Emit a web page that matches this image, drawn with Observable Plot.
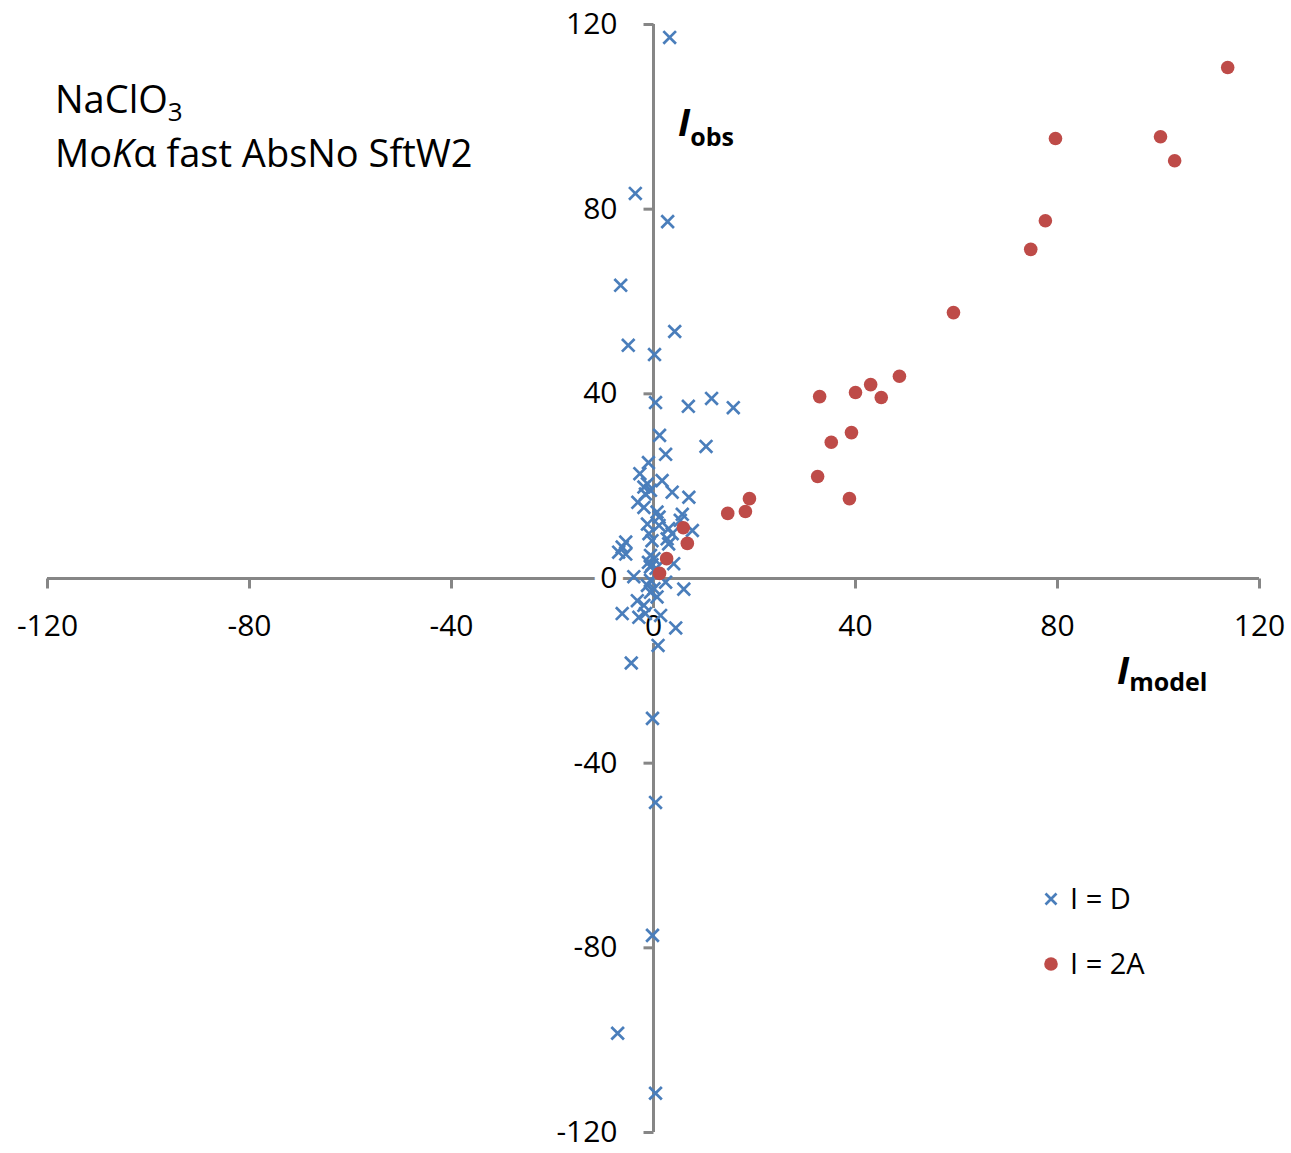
<!DOCTYPE html>
<html><head><meta charset="utf-8">
<script src="https://cdn.jsdelivr.net/npm/d3@7"></script>
<script src="https://cdn.jsdelivr.net/npm/@observablehq/plot@0.6"></script>
<style>
html,body{margin:0;padding:0;background:#fff;}
#chart{position:relative;width:1291px;height:1153px;}
#chart svg{font-family:"Open Sans",sans-serif;}
</style></head><body><div id="chart"></div>
<script>
// Series "I = D": I_model (x) and I_obs (y)
const dModel = [3.2,-3.6,2.8,-6.5,4.2,-5.0,0.2,0.4,11.5,6.9,15.8,10.4,1.2,2.4,-1.0,-2.7,1.7,-1.2,-1.9,-0.6,-1.6,3.7,7.0,-3.1,-1.9,0.7,5.7,1.1,-1.2,1.1,3.0,7.7,5.3,3.7,2.7,3.0,-0.9,-0.3,-5.5,-6.2,-6.9,-5.5,-0.6,0.1,-1.0,-0.3,-0.6,0.5,4.0,-3.9,-0.6,-1.2,0.1,2.4,6.0,-0.6,0.7,-3.2,-1.9,-6.2,-2.9,-1.6,1.4,4.4,0.9,-4.4,-0.2,0.4,-0.2,-7.1,0.4];
const dObs   = [117.2,83.4,77.3,63.5,53.5,50.5,48.5,38.1,39.0,37.3,37.0,28.6,31.0,26.9,25.1,22.7,21.2,20.5,19.8,19.1,18.3,18.7,17.6,16.5,15.4,14.4,13.9,13.3,11.8,11.5,10.8,10.4,12.6,9.7,8.6,7.5,9.7,8.2,7.9,6.8,5.7,5.3,5.0,4.3,3.5,3.0,2.5,2.2,3.2,0.4,-0.4,-1.5,-2.2,-0.8,-2.3,-3.0,-4.0,-4.8,-5.8,-7.6,-8.4,-7.6,-8.0,-10.7,-14.5,-18.3,-30.3,-48.5,-77.3,-98.5,-111.5];
// Series "I = 2A"
const aModel = [113.7,79.6,100.4,103.2,77.6,74.7,59.4,48.7,43.0,40.0,32.9,45.1,39.2,35.2,32.5,38.8,19.0,18.2,14.7,5.9,6.7,2.6,1.2];
const aObs   = [110.7,95.3,95.7,90.5,77.5,71.3,57.6,43.8,42.0,40.3,39.4,39.2,31.6,29.5,22.1,17.3,17.3,14.5,14.1,11.0,7.6,4.3,1.1];
const xTicks = [-120,-80,-40,0,40,80,120];
const yTicks = [-120,-80,-40,0,40,80,120];
const seriesNames = ["I = D","I = 2A"];

const blue = "#4A7EBB", red = "#BE4B48", axisGray = "#868686";
const dData = dModel.map((x,i)=>({x, y:dObs[i]}));
const aData = aModel.map((x,i)=>({x, y:aObs[i]}));

const tickDown = {draw(ctx){ctx.moveTo(0,0);ctx.lineTo(0,10);}};
const tickLeft = {draw(ctx){ctx.moveTo(0,0);ctx.lineTo(-10,0);}};

const plot = Plot.plot({
  width: 1291, height: 1153,
  marginLeft: 47, marginRight: 32, marginTop: 24, marginBottom: 21,
  x: {domain: [-120,120], axis: null},
  y: {domain: [-120,120], axis: null},
  marks: [
    Plot.ruleY([0], {x1: xTicks[0], x2: xTicks[xTicks.length-1], stroke: axisGray, strokeWidth: 3}),
    Plot.ruleX([0], {y1: yTicks[0], y2: yTicks[yTicks.length-1], stroke: axisGray, strokeWidth: 3}),
    Plot.dot(xTicks, {x: d=>d, y: 0, symbol: tickDown, stroke: axisGray, strokeWidth: 3, fill: "none", r: 5}),
    Plot.dot(yTicks, {x: 0, y: d=>d, symbol: tickLeft, stroke: axisGray, strokeWidth: 3, fill: "none", r: 5}),
    Plot.text(xTicks, {x: d=>d, y: 0, text: d=>String(d), dy: 48, fontSize: 30, fill: "#000", stroke: "white", strokeWidth: 14}),
    Plot.text(yTicks, {x: 0, y: d=>d, text: d=>String(d), dx: -36, textAnchor: "end", fontSize: 30, fill: "#000", stroke: "white", strokeWidth: 14}),
    Plot.dot(dData, {x: "x", y: "y", symbol: "times", r: 5.8, stroke: blue, strokeWidth: 2.7}),
    Plot.dot(aData, {x: "x", y: "y", symbol: "circle", r: 6.8, fill: red, stroke: "none"})
  ]
});
document.getElementById("chart").appendChild(plot);

const svg = d3.select(plot);
function rich(x, y, parts, base) {
  const t = svg.append("text").attr("x", x).attr("y", y).attr("fill", "#000")
    .attr("text-anchor", "start")
    .attr("font-family", '"Open Sans",sans-serif').attr("font-size", base);
  parts.forEach(p => {
    const s = t.append("tspan").text(p.text);
    if (p.size) s.attr("font-size", p.size);
    if (p.weight) s.attr("font-weight", p.weight);
    if (p.style) s.attr("font-style", p.style);
    if (p.dy) s.attr("dy", p.dy);
    if (p.family) s.attr("font-family", p.family);
  });
  return t;
}
// Title
rich(55, 113, [{text: "NaClO"}, {text: "3", size: 26, dy: 8}], 38);
rich(55, 167, [{text: "Mo"}, {text: "K", style: "italic"}, {text: "α"}, {text: " fast AbsNo SftW2"}], 38);
// Axis titles
rich(678, 136, [{text: "I", style: "italic", weight: 700}, {text: "obs", size: 25, weight: 700, dy: 10}], 38);
rich(1117, 684, [{text: "I", style: "italic", weight: 700}, {text: "model", size: 25, weight: 700, dy: 7}], 38);

// Legend
const leg = svg.append("g");
const lx = 1051, ly = [899, 964];
const ts = 5.5;
leg.append("path").attr("d", `M${lx-ts},${ly[0]-ts}L${lx+ts},${ly[0]+ts}M${lx-ts},${ly[0]+ts}L${lx+ts},${ly[0]-ts}`)
  .attr("stroke", blue).attr("stroke-width", 2.7).attr("fill", "none");
leg.append("circle").attr("cx", lx).attr("cy", ly[1]).attr("r", 6.8).attr("fill", red);
seriesNames.forEach((n,i) => {
  leg.append("text").attr("x", 1070).attr("y", ly[i]).attr("dy", "0.35em").attr("text-anchor", "start")
    .attr("font-size", 29).attr("fill", "#000").attr("font-family", '"Open Sans",sans-serif').text(n);
});
</script>
</body></html>
